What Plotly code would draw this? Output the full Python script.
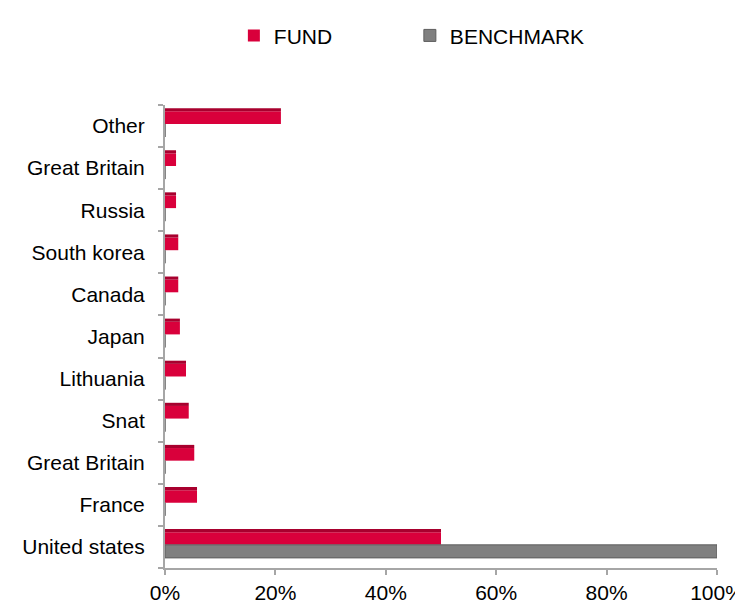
import plotly.graph_objects as go

categories = ["United states", "France", "Great Britain", "Snat", "Lithuania",
              "Japan", "Canada", "South korea", "Russia", "Great Britain", "Other"]
fund = [0.50, 0.058, 0.053, 0.043, 0.038, 0.027, 0.024, 0.024, 0.020, 0.020, 0.21]
benchmark = [1.00, 0, 0, 0, 0, 0, 0, 0, 0, 0, 0]
x_ticks = [0, 0.2, 0.4, 0.6, 0.8, 1.0]

positions = list(range(len(categories)))

RED = "#D9003B"
RED_TOP = "#A8002E"
GRAY = "#808080"
GRAY_DARK = "#5E5E5E"
AXIS = "#A6A6A6"
FONT = "Liberation Sans, Arial, sans-serif"

fig = go.Figure()
fig.add_trace(go.Bar(
    name="FUND", y=positions, x=fund, orientation="h",
    offset=0.05, width=0.3,
    marker=dict(color=RED, line=dict(color=RED, width=0)),
))
# darker top face of the fund bars (3-D look)
fig.add_trace(go.Bar(
    name="FUND", y=positions, x=fund, orientation="h",
    offset=0.35, width=0.075, showlegend=False, hoverinfo="skip",
    marker=dict(color=RED_TOP, line=dict(width=0)),
))
fig.add_trace(go.Bar(
    name="BENCHMARK", y=positions, x=benchmark, orientation="h",
    offset=-0.26, width=0.31,
    marker=dict(color=GRAY, line=dict(color=GRAY_DARK, width=1)),
))

fig.update_layout(
    width=743, height=605,
    barmode="overlay",
    plot_bgcolor="white", paper_bgcolor="white",
    margin=dict(l=157, r=34, t=97, b=45),
    font=dict(family=FONT, size=21, color="#000000"),
    showlegend=True,
    legend=dict(
        orientation="h", xref="container", x=0.304, xanchor="left",
        yref="container", y=0.988, yanchor="top",
        entrywidth=131,
        font=dict(size=21, family=FONT),
    ),
    xaxis=dict(
        range=[0, 1.0], tickvals=x_ticks, tickformat=".0%",
        showgrid=False, zeroline=False, automargin=False,
        showline=True, linecolor=AXIS, linewidth=2,
        ticks="outside", ticklen=5, tickcolor=AXIS, tickwidth=2,
        tickfont=dict(size=21),
    ),
    yaxis=dict(
        range=[-0.5, 10.5], tickvals=positions, ticktext=categories,
        showgrid=False, zeroline=False, automargin=False,
        showline=True, linecolor=AXIS, linewidth=2,
        ticks="", ticklabelstandoff=14,
        tickfont=dict(size=21),
        minor=dict(tickmode="linear", tick0=0.5, dtick=1, ticks="outside",
                   ticklen=5, tickcolor=AXIS, tickwidth=2, showgrid=False),
    ),
)

fig.write_html("out.html")
